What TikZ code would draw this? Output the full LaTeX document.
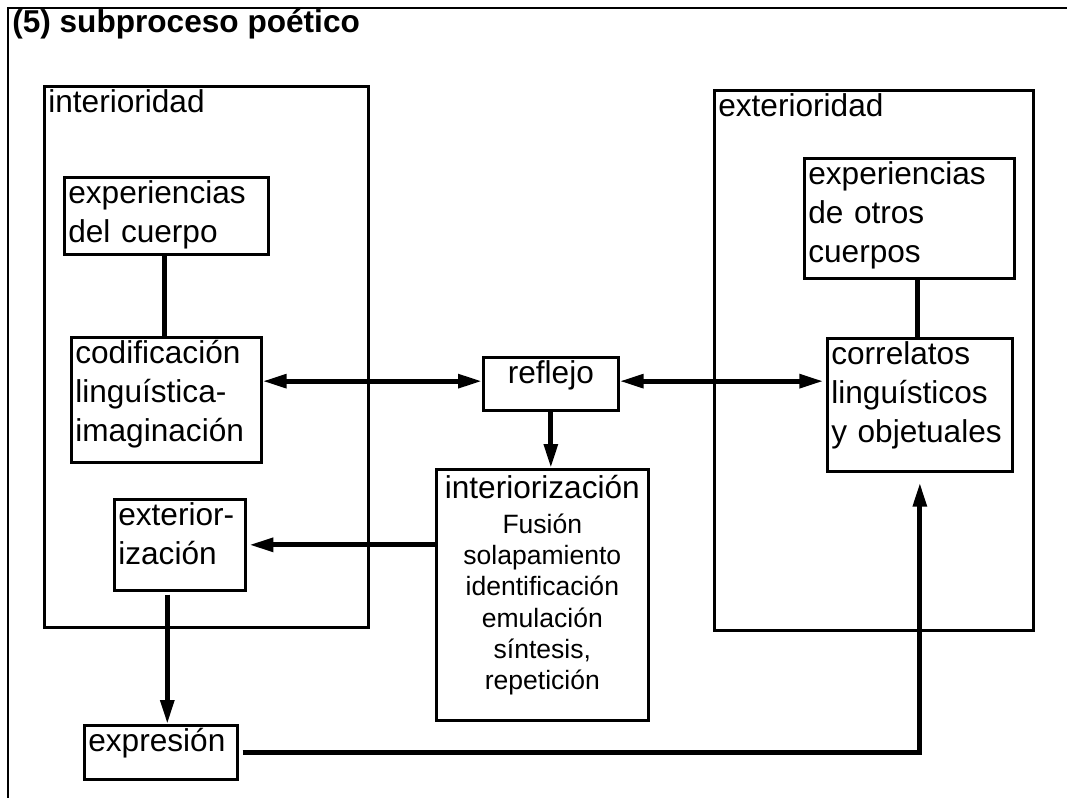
\documentclass[tikz,border=0pt]{standalone}
\usepackage{fontspec}
\setmainfont{Liberation Sans}
\usetikzlibrary{arrows.meta}

\newcommand{\bigtext}{\fontsize{23.7pt}{29.25pt}\selectfont}
\newcommand{\smalltext}{\fontsize{19.9pt}{23.5pt}\selectfont}

\begin{document}
\begin{tikzpicture}[
  x=0.75pt, y=-0.75pt,
  every node/.style={font=\bigtext},
  >={Triangle[length=18pt,width=10pt]},
  frame/.style={line width=1.9pt},
  % box anchored at its top-left corner, text starting at the top
  tbox/.style={draw, line width=2pt, anchor=north west, align=left,
    inner xsep=3pt, inner ysep=2.25pt, text height=17.25pt},
  cbox/.style={tbox, align=center},
  link/.style={line width=3.6pt},
  flow/.style={line width=3.6pt, ->},
  both/.style={line width=3.6pt, <->}
]
\useasboundingbox (0,0) rectangle (1067,798);

% outer frame and title
\draw[frame] (8,798) -- (8,8) -- (1067,8);
\node[font=\bigtext\bfseries, anchor=base west, inner sep=0pt]
  (title) at (12,33) {(5) subproceso poético};

% containers
\node[tbox, text width=237pt, text depth=384pt] (inter) at (43,85) {interioridad};
\node[tbox, text width=233.25pt, text depth=383.25pt] (exter) at (713,89) {exterioridad};

% left side
\node[tbox, text width=147pt, text depth=36pt] (expcuerpo) at (63,176)
  {experiencias\\del cuerpo};
\node[tbox, text width=136.5pt, text depth=72pt] (codif) at (70,336)
  {codificación\\linguística-\\imaginación};
\node[tbox, text width=92.25pt, text depth=46.5pt] (exterioriz) at (113,498)
  {exterior-\\ización};
\node[tbox, text width=108.75pt, text depth=18.75pt] (expresion) at (83,724)
  {expresión};

% middle
\node[cbox, text width=95.25pt, text depth=18pt] (reflejo) at (482,356) {reflejo};
\node[cbox, font=\smalltext, text width=153pt, text height=19.5pt, text depth=164.25pt]
  (interioriz) at (435,468)
  {{\bigtext interiorización}\\[2.6pt]
   Fusión\\solapamiento\\identificación\\emulación\\síntesis,\\repetición};

% right side
\node[tbox, text width=151.5pt, text depth=68.25pt] (expotros) at (803,157)
  {experiencias\\de otros\\cuerpos};
\node[tbox, text width=132.75pt, text depth=78pt] (correl) at (826,337)
  {correlatos\\linguísticos\\y objetuales};

% connectors
\draw[link] ([xshift=-1.5pt]expcuerpo.south) -- ([xshift=-1.5pt]expcuerpo.south |- codif.north);
\draw[link] ([xshift=-2pt]correl.north |- expotros.south) -- ([xshift=-2pt]correl.north);

\draw[both] ([yshift=2pt]reflejo.west) -- ([yshift=2pt]reflejo.west -| codif.east);
\draw[both, shorten >=2pt] ([yshift=2pt]reflejo.east) -- ([yshift=2pt]reflejo.east -| correl.west);
\draw[flow] (reflejo.south) -- (reflejo.south |- interioriz.north);
\draw[flow, shorten >=2pt] (exterioriz.east -| interioriz.west) -- (exterioriz.east);
\draw[flow, shorten <=2.25pt] ([xshift=-9.4pt]exterioriz.south)
  -- ([xshift=-9.4pt]exterioriz.south |- expresion.north);
\draw[flow, shorten <=3pt, shorten >=7.5pt, line join=miter]
  (expresion.east) -- (expresion.east -| correl.south) -- (correl.south);
\end{tikzpicture}
\end{document}
